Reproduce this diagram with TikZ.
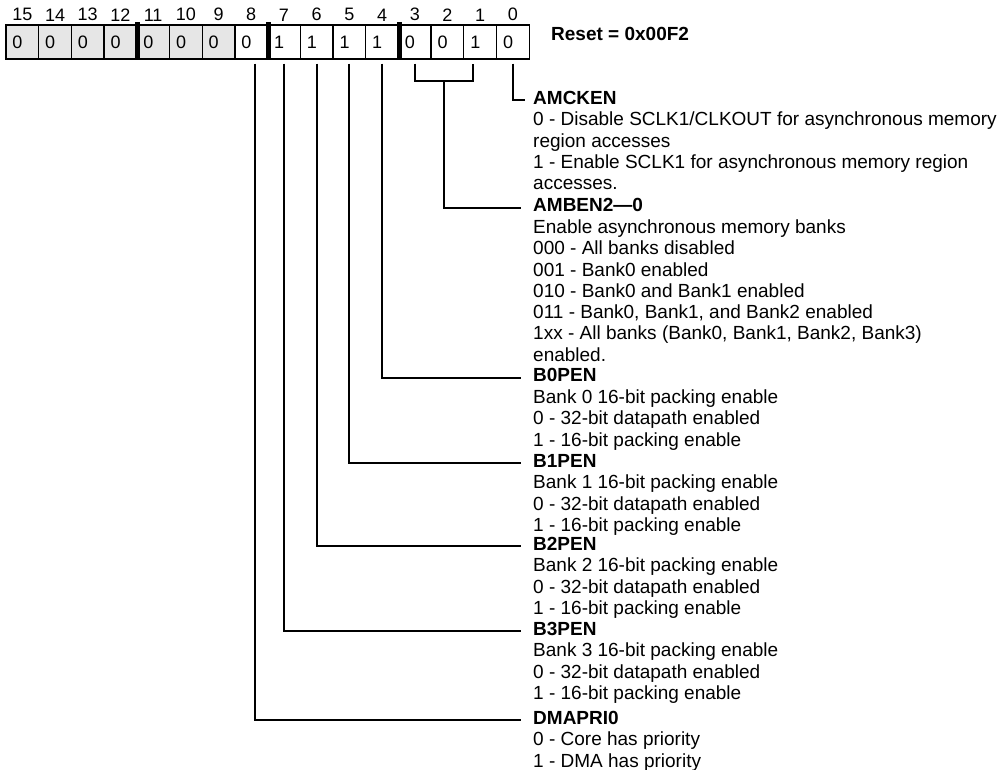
\documentclass[tikz,border=0pt]{standalone}
\usepackage{fontspec}
\setmainfont{Liberation Sans}
\usepackage{tikz}
\usetikzlibrary{positioning,calc}
\definecolor{CellGray}{HTML}{E6E6E6}
\newcommand{\regfont}{\fontsize{18}{20}\selectfont}
\newcommand{\descfont}{\fontsize{19}{21.3}\selectfont}

\begin{document}
\begin{tikzpicture}[x=1pt,y=-1pt,
  regcell/.style={draw,line width=1.3pt,minimum height=34pt,text width=19.7pt,inner xsep=6.5pt,inner ysep=0pt,align=left,font=\regfont},
  bitnum/.style={inner sep=0pt,font=\regfont},
  sepbar/.style={line width=5pt},
  wire/.style={line width=2pt,shorten <=4pt,shorten >=12pt},
  fieldname/.style={anchor=west,inner sep=0pt,font=\descfont\bfseries,text height=14.91pt,text depth=6.39pt},
  fielddesc/.style={inner sep=0pt,align=left,font=\descfont}]
  \useasboundingbox (0,0) rectangle (1008,770);
  \foreach \b/\v/\c in {15/0/CellGray,14/0/CellGray,13/0/CellGray,12/0/CellGray,11/0/CellGray,10/0/CellGray,9/0/CellGray,8/0/white,7/1/white,6/1/white,5/1/white,4/1/white,3/0/white,2/0/white,1/1/white,0/0/white} {
    \node[regcell,fill=\c] (b\b) at ({6+(15.5-\b)*32.7},42) {\v};
    \node[bitnum,above=3pt of b\b] (n\b) {\b};
  }
  \foreach \b in {12,8,4}
    \draw[sepbar] ([yshift=2pt]b\b.north east) -- ([yshift=-0.6pt]b\b.south east);
  \node[anchor=west,inner sep=0pt,font=\descfont\bfseries] (reset) at (551,33.5) {Reset = 0x00F2};

  \node[fieldname] (amcken) at (533,100) {AMCKEN};
  \node[fielddesc,below right=0pt of amcken.south west] (amckendesc) {\strut 0 - Disable SCLK1/CLKOUT for asynchronous memory\\region accesses\\1 - Enable SCLK1 for asynchronous memory region\\accesses.};
  \node[fieldname] (amben) at (533,207.5) {AMBEN2—0};
  \node[fielddesc,below right=0pt of amben.south west] (ambendesc) {\strut Enable asynchronous memory banks\\000 - All banks disabled\\001 - Bank0 enabled\\010 - Bank0 and Bank1 enabled\\011 - Bank0, Bank1, and Bank2 enabled\\1xx - All banks (Bank0, Bank1, Bank2, Bank3)\\enabled.};
  \node[fieldname] (b0pen) at (533,377.5) {B0PEN};
  \node[fielddesc,below right=0pt of b0pen.south west] (b0pendesc) {\strut Bank 0 16-bit packing enable\\0 - 32-bit datapath enabled\\1 - 16-bit packing enable};
  \node[fieldname] (b1pen) at (533,463) {B1PEN};
  \node[fielddesc,below right=0pt of b1pen.south west] (b1pendesc) {\strut Bank 1 16-bit packing enable\\0 - 32-bit datapath enabled\\1 - 16-bit packing enable};
  \node[fieldname] (b2pen) at (533,546) {B2PEN};
  \node[fielddesc,below right=0pt of b2pen.south west] (b2pendesc) {\strut Bank 2 16-bit packing enable\\0 - 32-bit datapath enabled\\1 - 16-bit packing enable};
  \node[fieldname] (b3pen) at (533,631) {B3PEN};
  \node[fielddesc,below right=0pt of b3pen.south west] (b3pendesc) {\strut Bank 3 16-bit packing enable\\0 - 32-bit datapath enabled\\1 - 16-bit packing enable};
  \node[fieldname] (dmapri) at (533,720) {DMAPRI0};
  \node[fielddesc,below right=0pt of dmapri.south west] (dmapridesc) {\strut 0 - Core has priority\\1 - DMA has priority};

  \draw[wire,shorten >=8pt] (b0.south) |- (amcken.west);
  \coordinate (ambenfork) at ($(b3.south)!0.5!([xshift=-7pt]b1.south)+(0,21)$);
  \draw[wire,shorten >=4pt] (b3.south) |- (ambenfork) -| ([xshift=-7pt]b1.south);
  \draw[wire,shorten <=0pt] (ambenfork) |- (amben.west);
  \draw[wire] (b4.south) |- (b0pen.west);
  \draw[wire] (b5.south) |- (b1pen.west);
  \draw[wire] (b6.south) |- (b2pen.west);
  \draw[wire] (b7.south) |- (b3pen.west);
  \draw[wire] ([xshift=4pt]b8.south) |- (dmapri.west);
\end{tikzpicture}
\end{document}
